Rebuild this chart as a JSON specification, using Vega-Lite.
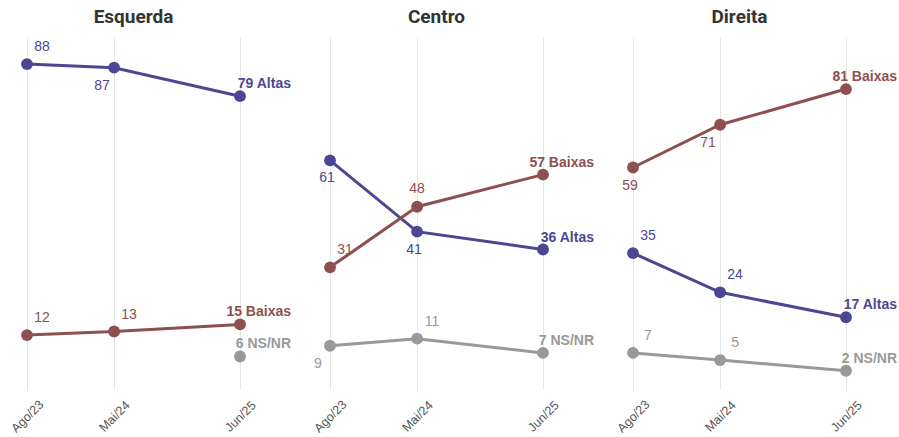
{
  "$schema": "https://vega.github.io/schema/vega-lite/v6.json",
  "padding": {"left": 8, "top": 8, "right": 4, "bottom": 0},
  "background": "white",
  "bounds": "flush",
  "data": {"values": [
    {"panel": "Esquerda", "serie": "Altas", "mes": "Ago/23", "date": "2023-08-01", "value": 88},
    {"panel": "Esquerda", "serie": "Altas", "mes": "Mai/24", "date": "2024-05-01", "value": 87},
    {"panel": "Esquerda", "serie": "Altas", "mes": "Jun/25", "date": "2025-06-01", "value": 79},
    {"panel": "Esquerda", "serie": "Baixas", "mes": "Ago/23", "date": "2023-08-01", "value": 12},
    {"panel": "Esquerda", "serie": "Baixas", "mes": "Mai/24", "date": "2024-05-01", "value": 13},
    {"panel": "Esquerda", "serie": "Baixas", "mes": "Jun/25", "date": "2025-06-01", "value": 15},
    {"panel": "Esquerda", "serie": "NS/NR", "mes": "Jun/25", "date": "2025-06-01", "value": 6},
    {"panel": "Centro", "serie": "Altas", "mes": "Ago/23", "date": "2023-08-01", "value": 61},
    {"panel": "Centro", "serie": "Altas", "mes": "Mai/24", "date": "2024-05-01", "value": 41},
    {"panel": "Centro", "serie": "Altas", "mes": "Jun/25", "date": "2025-06-01", "value": 36},
    {"panel": "Centro", "serie": "Baixas", "mes": "Ago/23", "date": "2023-08-01", "value": 31},
    {"panel": "Centro", "serie": "Baixas", "mes": "Mai/24", "date": "2024-05-01", "value": 48},
    {"panel": "Centro", "serie": "Baixas", "mes": "Jun/25", "date": "2025-06-01", "value": 57},
    {"panel": "Centro", "serie": "NS/NR", "mes": "Ago/23", "date": "2023-08-01", "value": 9},
    {"panel": "Centro", "serie": "NS/NR", "mes": "Mai/24", "date": "2024-05-01", "value": 11},
    {"panel": "Centro", "serie": "NS/NR", "mes": "Jun/25", "date": "2025-06-01", "value": 7},
    {"panel": "Direita", "serie": "Altas", "mes": "Ago/23", "date": "2023-08-01", "value": 35},
    {"panel": "Direita", "serie": "Altas", "mes": "Mai/24", "date": "2024-05-01", "value": 24},
    {"panel": "Direita", "serie": "Altas", "mes": "Jun/25", "date": "2025-06-01", "value": 17},
    {"panel": "Direita", "serie": "Baixas", "mes": "Ago/23", "date": "2023-08-01", "value": 59},
    {"panel": "Direita", "serie": "Baixas", "mes": "Mai/24", "date": "2024-05-01", "value": 71},
    {"panel": "Direita", "serie": "Baixas", "mes": "Jun/25", "date": "2025-06-01", "value": 81},
    {"panel": "Direita", "serie": "NS/NR", "mes": "Ago/23", "date": "2023-08-01", "value": 7},
    {"panel": "Direita", "serie": "NS/NR", "mes": "Mai/24", "date": "2024-05-01", "value": 5},
    {"panel": "Direita", "serie": "NS/NR", "mes": "Jun/25", "date": "2025-06-01", "value": 2}
  ]},
  "transform": [
    {"calculate": "datum.panel + '|' + datum.serie + '|' + datum.mes", "as": "key"},
    {"calculate": "datum.value + ' ' + datum.serie", "as": "endlabel"}
  ],
  "facet": {
    "column": {
      "field": "panel",
      "type": "nominal",
      "sort": ["Esquerda", "Centro", "Direita"],
      "header": {
        "title": null,
        "labelFont": "Roboto",
        "labelFontSize": 19,
        "labelFontWeight": "bold",
        "labelColor": "#333333",
        "labelPadding": 10
      }
    }
  },
  "spacing": 90,
  "spec": {
    "width": 213,
    "height": 353,
    "encoding": {
      "x": {
        "field": "date",
        "type": "temporal",
        "scale": {"type": "utc", "domain": ["2023-08-01", "2025-06-01"], "nice": false},
        "axis": {
          "title": null,
          "values": ["2023-08-01", "2024-05-01", "2025-06-01"],
          "labelExpr": "({'7':'Ago','4':'Mai','5':'Jun'})[utcmonth(datum.value)] + '/' + utcFormat(datum.value, '%y')",
          "labelAngle": -45,
          "labelAlign": "center",
          "labelBaseline": "middle",
          "labelPadding": 26,
          "labelFont": "Liberation Sans",
          "labelFontSize": 12.5,
          "labelColor": "#555555",
          "ticks": false,
          "domain": false,
          "grid": true,
          "gridColor": "#e6e6e6",
          "gridWidth": 1,
          "labelOverlap": false
        }
      },
      "y": {
        "field": "value",
        "type": "quantitative",
        "scale": {"domain": [-3.4, 95.6], "nice": false, "zero": false},
        "axis": null
      },
      "color": {
        "field": "serie",
        "type": "nominal",
        "scale": {"domain": ["Altas", "Baixas", "NS/NR"], "range": ["#4C4792", "#8E4F4F", "#999999"]},
        "legend": null
      }
    },
    "layer": [
      {"mark": {"type": "line", "strokeWidth": 3}},
      {"mark": {"type": "point", "filled": true, "size": 140, "opacity": 1}},
      {
        "transform": [{"filter": "datum.mes == 'Jun/25'"}],
        "mark": {"type": "text", "align": "right", "baseline": "middle", "dx": 51, "dy": -12, "font": "Liberation Sans", "fontSize": 14, "fontWeight": "bold"},
        "encoding": {"text": {"field": "endlabel"}}
      },
      {
        "transform": [{"filter": "indexof(['Esquerda|Altas|Ago/23','Esquerda|Baixas|Ago/23','Esquerda|Baixas|Mai/24','Centro|Baixas|Ago/23','Centro|NS/NR|Mai/24','Direita|Altas|Ago/23','Direita|Altas|Mai/24','Direita|NS/NR|Ago/23','Direita|NS/NR|Mai/24'], datum.key) >= 0"}],
        "mark": {"type": "text", "align": "center", "baseline": "middle", "dx": 15, "dy": -17, "font": "Liberation Sans", "fontSize": 14},
        "encoding": {"text": {"field": "value"}}
      },
      {
        "transform": [{"filter": "indexof(['Esquerda|Altas|Mai/24','Direita|Baixas|Mai/24','Centro|NS/NR|Ago/23'], datum.key) >= 0"}],
        "mark": {"type": "text", "align": "center", "baseline": "middle", "dx": -12, "dy": 18, "font": "Liberation Sans", "fontSize": 14},
        "encoding": {"text": {"field": "value"}}
      },
      {
        "transform": [{"filter": "indexof(['Centro|Altas|Ago/23','Centro|Altas|Mai/24','Direita|Baixas|Ago/23'], datum.key) >= 0"}],
        "mark": {"type": "text", "align": "center", "baseline": "middle", "dx": -3, "dy": 18, "font": "Liberation Sans", "fontSize": 14},
        "encoding": {"text": {"field": "value"}}
      },
      {
        "transform": [{"filter": "indexof(['Centro|Baixas|Mai/24'], datum.key) >= 0"}],
        "mark": {"type": "text", "align": "center", "baseline": "middle", "dx": 0, "dy": -18, "font": "Liberation Sans", "fontSize": 14},
        "encoding": {"text": {"field": "value"}}
      }
    ]
  },
  "config": {
    "view": {"stroke": null},
    "font": "Liberation Sans"
  }
}
